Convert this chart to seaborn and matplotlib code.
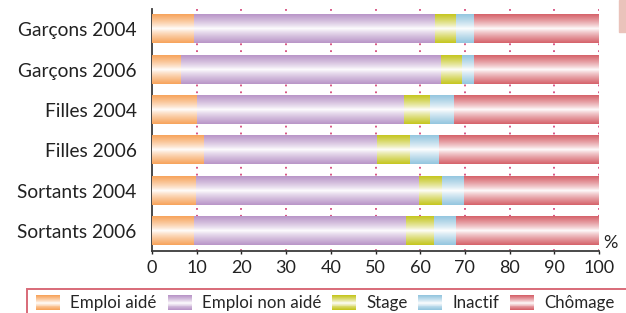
import numpy as np
import pandas as pd
import seaborn as sns
import matplotlib.pyplot as plt
from matplotlib.patches import Patch, Rectangle
from matplotlib.colors import to_rgb

groups = ["Garçons 2004", "Garçons 2006", "Filles 2004", "Filles 2006",
          "Sortants 2004", "Sortants 2006"]
series = ["Emploi aidé", "Emploi non aidé", "Stage", "Inactif", "Chômage"]
emploi_aide = [9.3, 6.4, 10.0, 11.6, 9.8, 9.3]
emploi_non_aide = [54.0, 58.2, 46.3, 38.7, 49.9, 47.4]
stage = [4.6, 4.7, 5.7, 7.2, 5.1, 6.2]
inactif = [4.1, 2.7, 5.5, 6.5, 4.8, 4.9]
chomage = [28.0, 28.0, 32.5, 36.0, 30.4, 32.2]
colors = ["#f7a45c", "#b996c8", "#c5c620", "#95c6df", "#d6636b"]

df = pd.DataFrame({"groupe": groups, "Emploi aidé": emploi_aide,
                   "Emploi non aidé": emploi_non_aide, "Stage": stage,
                   "Inactif": inactif, "Chômage": chomage})
cum = df[series].cumsum(axis=1)

sns.set_style("white")
plt.rcParams["font.family"] = ["Lato", "DejaVu Sans"]

fig = plt.figure(figsize=(6.26, 3.13), dpi=100)
ax = fig.add_axes([152 / 626, 62 / 313, 447 / 626, 242 / 313])

# dotted grid behind the bars
for v in range(10, 101, 10):
    ax.axvline(v, color="#d4487a", lw=1.3, ls=(0, (1, 2.8)), zorder=0.5)


def gradient(c, n=64, p=0.8):
    t = np.abs(np.linspace(-1, 1, n)) ** p
    rgb = np.array(to_rgb(c))
    return (1 - t[:, None]) * 1.0 + t[:, None] * rgb[None, :]


# stacked bars: draw cumulative totals from largest to smallest
for k, (s, c) in enumerate(reversed(list(zip(series, colors)))):
    n0 = len(ax.patches)
    sns.barplot(x=cum[s], y=df["groupe"], orient="h", color=c, width=0.7,
                linewidth=0, ax=ax, zorder=1 + 2 * k)
    g = gradient(c)[:, None, :]
    for p in ax.patches[n0:]:
        x0, y0 = p.get_x(), p.get_y()
        ax.imshow(g, extent=(x0, x0 + p.get_width(), y0 + p.get_height(), y0),
                  aspect="auto", interpolation="bilinear", zorder=2 + 2 * k)

ax.set_xlim(0, 100)
ax.set_ylim(5.5, -0.5)
ax.set_xticks(range(0, 101, 10))
ax.set_xlabel("")
ax.set_ylabel("")
for sp in ["top", "right"]:
    ax.spines[sp].set_visible(False)
for sp in ["left", "bottom"]:
    ax.spines[sp].set_color("#3a3a3a")
    ax.spines[sp].set_linewidth(1.3)
ax.tick_params(axis="y", length=0, pad=11, labelsize=13.8, colors="#222222")
ax.tick_params(axis="x", length=2.5, width=1, direction="out", pad=4,
               labelsize=13, colors="#222222", bottom=True)

fig.text(610 / 626, 1 - 243 / 313, "%", fontsize=13, color="#222222",
         ha="center", va="center")

fig.patches.append(Rectangle((619 / 626, 1 - 32 / 313), 10 / 626, 32 / 313,
                             transform=fig.transFigure, color="#eac3bb"))


class GradientHandler:
    # legend key drawn as thin horizontal strips, like the bars
    def legend_artist(self, legend, orig_handle, fontsize, handlebox):
        x0, y0 = -handlebox.xdescent, -handlebox.ydescent
        w, h = handlebox.width, handlebox.height
        strips = gradient(orig_handle.get_facecolor(), n=16)
        first = None
        for i, col in enumerate(strips):
            r = Rectangle((x0, y0 + i * h / 16), w, h / 16 + 0.05,
                          facecolor=col, edgecolor="none",
                          transform=handlebox.get_transform())
            handlebox.add_artist(r)
            first = first or r
        return first


# legend box running off the right and bottom edges
fig.patches.append(Rectangle((27 / 626, -0.05), 1.0, 0.05 + 1 - 289 / 313,
                             transform=fig.transFigure, facecolor="none",
                             edgecolor="#d86a78", lw=1.4))

handles = [Patch(facecolor=c, edgecolor="none") for c in colors]
leg = fig.legend(handles, series, loc="upper left", ncol=5,
                 bbox_to_anchor=(31 / 626, 1 - 290 / 313), borderaxespad=0,
                 fontsize=12.2, handlelength=1.42, handleheight=1.0,
                 handletextpad=0.59, columnspacing=0.65, borderpad=0.3,
                 frameon=False,
                 handler_map={Patch: GradientHandler()})

fig.savefig("out.png", dpi=100)
